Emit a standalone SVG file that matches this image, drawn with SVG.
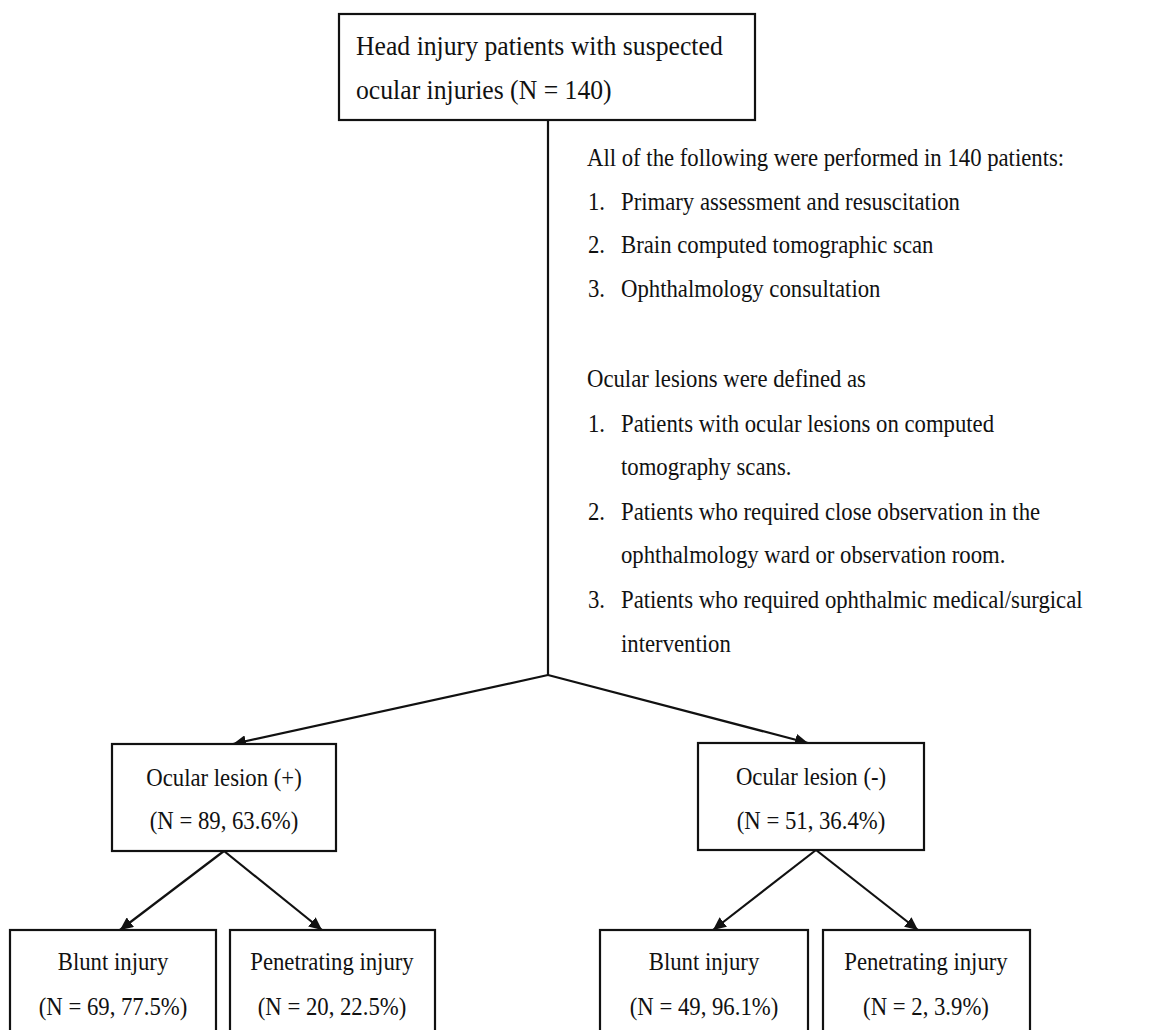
<svg xmlns="http://www.w3.org/2000/svg" width="1174" height="1030" viewBox="0 0 1174 1030">
<style>
text{font-family:"Liberation Serif","Times New Roman",serif;font-size:26px;fill:#111}
.c{text-anchor:middle}
.big{font-size:26.5px}
rect{fill:#fff;stroke:#111;stroke-width:2.2}
.ln{fill:none;stroke:#111;stroke-width:2.2}
</style>
<defs>
<marker id="ah" viewBox="0 0 13 12" refX="13" refY="6" markerWidth="13" markerHeight="12" markerUnits="userSpaceOnUse" orient="auto">
<path d="M0,0 L13,6 L0,12 Z" fill="#111"/>
</marker>
</defs>
<rect x="0" y="0" width="1174" height="1030" style="stroke:none;fill:#fff"/>
<g id="connectors">
<polyline class="ln" points="548,120 548,675"/>
<line class="ln" x1="548" y1="675" x2="233" y2="744" marker-end="url(#ah)"/>
<line class="ln" x1="548" y1="675" x2="808" y2="743" marker-end="url(#ah)"/>
<line class="ln" x1="224" y1="851" x2="120" y2="930" marker-end="url(#ah)"/>
<line class="ln" x1="224" y1="851" x2="322" y2="930" marker-end="url(#ah)"/>
<line class="ln" x1="816" y1="850" x2="713" y2="930" marker-end="url(#ah)"/>
<line class="ln" x1="816" y1="850" x2="918" y2="930" marker-end="url(#ah)"/>
</g>
<g id="top">
<rect x="339" y="14" width="416" height="106"/>
<text class="big" transform="translate(356,55) scale(0.97,1)">Head injury patients with suspected</text>
<text class="big" transform="translate(356,99) scale(0.97,1)">ocular injuries (N = 140)</text>
</g>
<g id="notes">
<text transform="translate(587,166) scale(0.875,1)">All of the following were performed in 140 patients:</text>
<text transform="translate(588,210) scale(0.875,1)">1.</text><text transform="translate(621,210) scale(0.875,1)">Primary assessment and resuscitation</text>
<text transform="translate(588,253) scale(0.875,1)">2.</text><text transform="translate(621,253) scale(0.875,1)">Brain computed tomographic scan</text>
<text transform="translate(588,297) scale(0.875,1)">3.</text><text transform="translate(621,297) scale(0.875,1)">Ophthalmology consultation</text>
<text transform="translate(587,387) scale(0.875,1)">Ocular lesions were defined as</text>
<text transform="translate(588,432) scale(0.875,1)">1.</text><text transform="translate(621,432) scale(0.875,1)">Patients with ocular lesions on computed</text>
<text transform="translate(621,475) scale(0.875,1)">tomography scans.</text>
<text transform="translate(588,520) scale(0.875,1)">2.</text><text transform="translate(621,520) scale(0.875,1)">Patients who required close observation in the</text>
<text transform="translate(621,563) scale(0.875,1)">ophthalmology ward or observation room.</text>
<text transform="translate(588,608) scale(0.875,1)">3.</text><text transform="translate(621,608) scale(0.875,1)">Patients who required ophthalmic medical/surgical</text>
<text transform="translate(621,652) scale(0.875,1)">intervention</text>
</g>
<g id="pos">
<rect x="112" y="744" width="224" height="107"/>
<text class="c" transform="translate(224,786) scale(0.875,1)">Ocular lesion (+)</text>
<text class="c" transform="translate(224,829) scale(0.875,1)">(N = 89, 63.6%)</text>
</g>
<g id="neg">
<rect x="698" y="743" width="226" height="107"/>
<text class="c" transform="translate(811,785) scale(0.875,1)">Ocular lesion (-)</text>
<text class="c" transform="translate(811,829) scale(0.875,1)">(N = 51, 36.4%)</text>
</g>
<g id="pos-blunt">
<rect x="10" y="930" width="206" height="110"/>
<text class="c" transform="translate(113,970) scale(0.875,1)">Blunt injury</text>
<text class="c" transform="translate(113,1015) scale(0.875,1)">(N = 69, 77.5%)</text>
</g>
<g id="pos-pen">
<rect x="230" y="930" width="205" height="110"/>
<text class="c" transform="translate(332,970) scale(0.875,1)">Penetrating injury</text>
<text class="c" transform="translate(332,1015) scale(0.875,1)">(N = 20, 22.5%)</text>
</g>
<g id="neg-blunt">
<rect x="600" y="930" width="208" height="110"/>
<text class="c" transform="translate(704,970) scale(0.875,1)">Blunt injury</text>
<text class="c" transform="translate(704,1015) scale(0.875,1)">(N = 49, 96.1%)</text>
</g>
<g id="neg-pen">
<rect x="823" y="930" width="207" height="110"/>
<text class="c" transform="translate(926,970) scale(0.875,1)">Penetrating injury</text>
<text class="c" transform="translate(926,1015) scale(0.875,1)">(N = 2, 3.9%)</text>
</g>
</svg>
